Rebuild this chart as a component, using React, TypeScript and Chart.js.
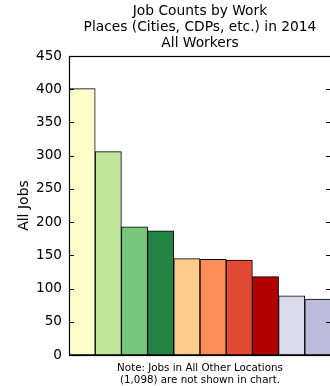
import React, { useEffect, useRef } from "react";
import { Chart, registerables } from "chart.js";

Chart.register(...registerables);

const categories = ["P1", "P2", "P3", "P4", "P5", "P6", "P7", "P8", "P9", "P10"];
const jobCounts = [401, 306, 193, 187, 145, 144, 143, 118, 89, 84];
const barColors = [
  "#ffffcc", "#c2e699", "#78c679", "#238443",
  "#fdcc8a", "#fc8d59", "#e34a33", "#b30000",
  "#dadaeb", "#bcbddc",
];
const yTicks = [0, 50, 100, 150, 200, 250, 300, 350, 400, 450];
const titleLines = ["Job Counts by Work", "Places (Cities, CDPs, etc.) in 2014", "All Workers"];
const noteLines = ["Note: Jobs in All Other Locations", "(1,098) are not shown in chart."];
const yTitle = "All Jobs";

const FONT = "'DejaVu Sans', sans-serif";

const framePlugin = {
  id: "frame",
  afterDatasetsDraw(chart: any) {
    const { ctx, chartArea } = chart;
    const y = chart.scales.y;
    ctx.save();
    ctx.strokeStyle = "#000";
    ctx.lineWidth = 1;
    ctx.beginPath();
    for (const v of yTicks) {
      const py = Math.round(y.getPixelForValue(v)) + 0.5;
      ctx.moveTo(chartArea.left, py);
      ctx.lineTo(chartArea.left + 5, py);
      ctx.moveTo(chartArea.right, py);
      ctx.lineTo(chartArea.right - 5, py);
    }
    ctx.stroke();
    ctx.lineWidth = 1.2;
    ctx.strokeRect(
      Math.round(chartArea.left) + 0.5,
      Math.round(chartArea.top) + 0.5,
      Math.round(chartArea.right - chartArea.left),
      Math.round(chartArea.bottom - chartArea.top)
    );
    ctx.restore();
  },
};

export default function App() {
  const ref = useRef<HTMLCanvasElement>(null);
  useEffect(() => {
    if (!ref.current) return;
    const chart = new Chart(ref.current, {
      type: "bar",
      data: {
        labels: categories,
        datasets: [
          {
            data: jobCounts,
            backgroundColor: barColors,
            borderColor: "#000",
            borderWidth: 1,
            borderSkipped: false,
            barPercentage: 1,
            categoryPercentage: 1,
          },
        ],
      },
      options: {
        animation: false,
        responsive: false,
        layout: { padding: 0 },
        plugins: {
          legend: { display: false },
          tooltip: { enabled: false },
          title: {
            display: true,
            text: titleLines,
            fullSize: false,
            color: "#000",
            font: { family: FONT, size: 13.8, weight: "normal", lineHeight: 1.16 },
            padding: { top: 3, bottom: 5 },
          },
        },
        scales: {
          x: {
            grid: { display: false, drawTicks: false },
            border: { display: false },
            ticks: { display: false },
            title: {
              display: true,
              text: noteLines,
              color: "#000",
              font: { family: FONT, size: 10.3, lineHeight: 1.17 },
              padding: { top: 2, bottom: 0 },
            },
            afterFit(scale: any) {
              scale.height = 31;
            },
          },
          y: {
            min: 0,
            max: 450,
            grid: { display: false, drawTicks: false },
            border: { display: false },
            afterBuildTicks(scale: any) {
              scale.ticks = yTicks.map((v) => ({ value: v }));
            },
            ticks: {
              color: "#000",
              padding: 7,
              font: { family: FONT, size: 13.6 },
            },
            title: {
              display: true,
              text: yTitle,
              color: "#000",
              font: { family: FONT, size: 14, lineHeight: 1.2 },
              padding: { top: 16, bottom: 0 },
            },
            afterFit(scale: any) {
              scale.width = 69;
            },
          },
        },
      },
      plugins: [framePlugin],
    });
    return () => chart.destroy();
  }, []);
  return (
    <div style={{ position: "fixed", left: 0, top: 0, width: 330, height: 386, overflow: "hidden", background: "#fff" }}>
      <canvas ref={ref} width={331} height={386} style={{ width: 331, height: 386, display: "block" }} />
    </div>
  );
}
